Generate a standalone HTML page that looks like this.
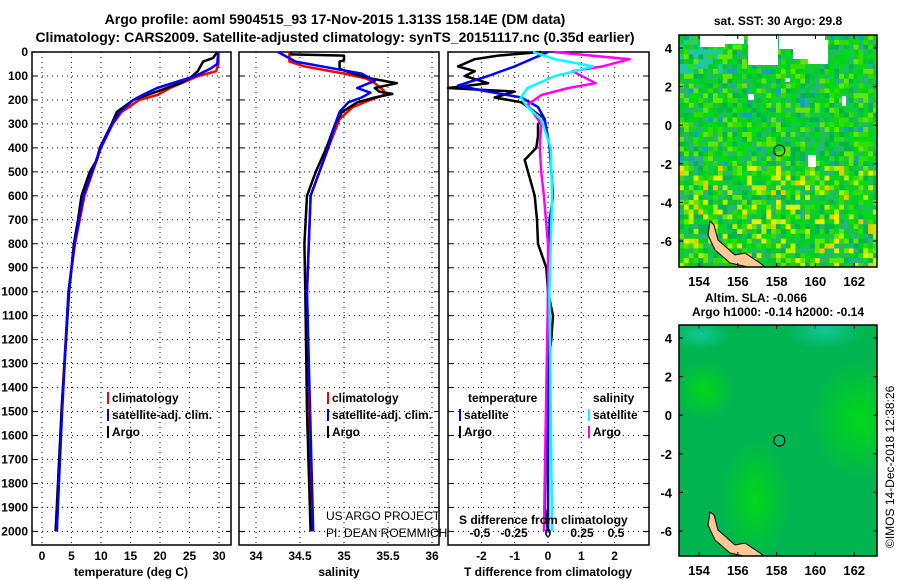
<!DOCTYPE html>
<html><head><meta charset="utf-8"><style>
html,body{margin:0;padding:0;background:#fff;}
svg{display:block;}
text{font-family:"Liberation Sans",sans-serif;font-weight:bold;fill:#000;}
</style></head><body>
<svg id="fig" width="900" height="580" viewBox="0 0 900 580" xmlns="http://www.w3.org/2000/svg">
<text x="335" y="24" font-size="14" text-anchor="middle">Argo profile: aoml 5904515_93 17-Nov-2015 1.313S 158.14E (DM data)</text>
<text x="335" y="42" font-size="14" text-anchor="middle">Climatology: CARS2009. Satellite-adjusted climatology: synTS_20151117.nc (0.35d earlier)</text>
<g id="panels"></g>
<g id="maps"></g>
</svg>
<script>
// ---- data ----
const depthTicks = [0,100,200,300,400,500,600,700,800,900,1000,1100,1200,1300,1400,1500,1600,1700,1800,1900,2000];
const tempTicks = [0,5,10,15,20,25,30];
const salTicks = [34,34.5,35,35.5,36];
const tdiffTicks = [-2,-1,0,1,2];
const sdiffTicks = [-0.5,-0.25,0,0.25,0.5];

const argoTempDepth = [0,25,40,80,110,130,160,200,250,300,400,450,500,600,700,800,1000,1500,2000];
const argoTemp      = [29.7,29,27.3,26.4,25,23.4,20,15.5,12.7,11.8,9.8,9.3,8.1,6.7,6.1,5.4,4.6,3.3,2.3];
const climTempDepth = [0,50,80,100,150,180,200,250,300,400,500,600,800,1000,1500,2000];
const climTemp      = [29.9,29.9,29.5,26.5,21.7,19.5,16.5,13.5,12,10,8.6,7.2,5.6,4.5,3.3,2.5];
const satTempDepth  = [0,50,70,100,150,180,200,250,300,400,500,600,800,1000,1500,2000];
const satTemp       = [29.9,29.7,28.5,26,19.5,17,15.5,13.2,11.9,9.9,8.5,7,5.5,4.5,3.4,2.5];

const argoSalDepth = [0,10,15,35,40,70,90,110,130,150,165,175,190,210,250,300,400,500,600,800,1000,1500,2000];
const argoSal      = [34.4,34.4,35.0,35.0,34.95,34.95,35.1,35.3,35.6,35.35,35.4,35.55,35.35,35.15,34.98,34.9,34.8,34.68,34.58,34.55,34.56,34.58,34.62];
const climSalDepth = [0,40,60,90,110,130,160,180,200,230,280,400,600,1000,2000];
const climSal      = [34.38,34.38,34.55,35.0,35.25,35.35,35.45,35.45,35.3,35.1,34.95,34.82,34.62,34.58,34.63];
const satSalDepth  = [0,40,70,90,120,150,170,190,210,250,300,400,600,1000,2000];
const satSal       = [34.25,34.45,34.9,35.2,35.35,35.15,35.3,35.2,35.05,34.95,34.9,34.82,34.62,34.58,34.65];

const argoTdDepth = [0,15,30,60,80,100,130,150,165,190,210,240,280,300,350,400,450,500,550,600,700,800,900,1000,1100,1200,1300,1500,1900,2000];
const argoTd      = [-0.2,-1.5,-2.2,-2.7,-2.2,-2.5,-1.8,-3.0,-1.0,-1.6,-0.8,-0.5,-0.1,-0.3,-0.3,-0.35,-0.7,-0.6,-0.5,-0.4,-0.33,-0.3,-0.05,0,0.15,0.1,0,-0.05,-0.1,0];
const satTdDepth  = [0,60,100,140,160,190,230,280,400,600,700,1000,2000];
const satTd       = [0,-1.0,-1.8,-2.7,-2.0,-0.8,-0.3,-0.1,0.05,0.15,0.05,0,0];
const argoSdDepth = [0,30,60,80,130,150,180,220,260,300,400,500,600,800,1000,2000];
const argoSd      = [0.04,0.6,0.4,0.18,0.35,0.15,-0.05,-0.15,-0.1,-0.05,-0.06,-0.05,-0.03,0,0,-0.03];
const satSdDepth  = [0,30,60,80,100,150,190,230,280,400,600,1000,2000];
const satSd       = [-0.11,0.05,0.33,0.2,0.05,-0.15,-0.2,-0.15,-0.05,0.02,0.03,0.01,0.03];

const latTicks = [4,2,0,-2,-4,-6];
const lonTicks = [154,156,158,160,162];
const floatLon = 158.14, floatLat = -1.313;

// ---- helpers ----
const NS = "http://www.w3.org/2000/svg";
const panels = document.getElementById('panels');
const maps = document.getElementById('maps');
function mk(tag, attrs, parent){const e=document.createElementNS(NS,tag);for(const k in attrs)e.setAttribute(k,attrs[k]);(parent||panels).appendChild(e);return e;}
const Y0=52, Y1=545;
const yD = d => 52 + d*0.2397;
const P = [
 {x0:32,x1:231,f:v=>42+(v-0)*5.9},
 {x0:239,x1:439,f:v=>256+(v-34)*88},
 {x0:448,x1:649,f:v=>548+v*33.3}
];
const sdX = v => 548 + v*136;

P.forEach((p,i)=>{
  const g=mk('g',{});
  
  
  depthTicks.forEach(d=>{
    const l=mk('line',{x1:p.x0,x2:p.x1,y1:yD(d),y2:yD(d),stroke:'#000','stroke-width':1,'stroke-dasharray':'1,4'},g);
    
    
    mk('line',{x1:p.x0,x2:p.x0+5,y1:yD(d),y2:yD(d),stroke:'#000'},g);
    mk('line',{x1:p.x1-5,x2:p.x1,y1:yD(d),y2:yD(d),stroke:'#000'},g);
  });
  const ticks = i==0?tempTicks:(i==1?salTicks:tdiffTicks);
  ticks.forEach(t=>{
    const x=p.f(t);
    const l=mk('line',{x1:x,x2:x,y1:Y0,y2:Y1,stroke:'#000','stroke-width':1,'stroke-dasharray':'1,4'},g);
    
    
    const tx=mk('text',{x:x,y:560,'font-size':12,'text-anchor':'middle'},g);
    tx.textContent=String(t);
    
    
  });
  const r=mk('rect',{x:p.x0,y:Y0,width:p.x1-p.x0,height:Y1-Y0,fill:'none',stroke:'#000','stroke-width':1.5},g);
  
  
});
depthTicks.forEach(d=>{
  const t=mk('text',{x:28,y:yD(d)+4,'font-size':12,'text-anchor':'end'});
  t.textContent=String(d);
  
  
});
sdiffTicks.forEach(v=>{
  const t=mk('text',{x:sdX(v),y:537,'font-size':12,'text-anchor':'middle'});
  t.textContent=String(v);
  
  
});

function line(depths, vals, fx, color, w, name){
  const pts=depths.map((d,i)=>fx(vals[i]).toFixed(1)+','+yD(d).toFixed(1)).join(' ');
  const e=mk('polyline',{points:pts,fill:'none',stroke:color,'stroke-width':w,'stroke-linejoin':'round'});
  
  
}
line(climTempDepth,climTemp,P[0].f,'#ff0000',2.5,'temp-climatology-line');
line(argoTempDepth,argoTemp,P[0].f,'#000',2.5,'temp-argo-line');
line(satTempDepth,satTemp,P[0].f,'#0000ff',2.5,'temp-satellite-line');
line(climSalDepth,climSal,P[1].f,'#ff0000',2.5,'sal-climatology-line');
line(argoSalDepth,argoSal,P[1].f,'#000',2.5,'sal-argo-line');
line(satSalDepth,satSal,P[1].f,'#0000ff',2.5,'sal-satellite-line');
line(argoTdDepth,argoTd,P[2].f,'#000',2.5,'tdiff-argo-line');
line(satTdDepth,satTd,P[2].f,'#0000ff',2.5,'tdiff-satellite-line');
line(argoSdDepth,argoSd,sdX,'#ff00ff',2.5,'sdiff-argo-line');
line(satSdDepth,satSd,sdX,'#00ffff',2.5,'sdiff-satellite-line');

function legend(x,y,color,label,name){
  mk('rect',{x:x,y:y-10,width:2,height:12,fill:color});
  const t=mk('text',{x:x+5,y:y,'font-size':12});
  t.textContent=label;
  
  
}
legend(107,402,'#ff0000','climatology','legend-climatology-1');
legend(107,419,'#0000ff','satellite-adj. clim.','legend-satellite-1');
legend(107,436,'#000','Argo','legend-argo-1');
legend(327,402,'#ff0000','climatology','legend-climatology-2');
legend(327,419,'#0000ff','satellite-adj. clim.','legend-satellite-2');
legend(327,436,'#000','Argo','legend-argo-2');
let t=mk('text',{x:468,y:402,'font-size':12});t.textContent='temperature';


t=mk('text',{x:593,y:402,'font-size':12});t.textContent='salinity';


legend(459,419,'#0000ff','satellite','legend-t-satellite');
legend(459,436,'#000','Argo','legend-t-argo');
legend(588,419,'#00ffff','satellite','legend-s-satellite');
legend(588,436,'#ff00ff','Argo','legend-s-argo');
t=mk('text',{x:326,y:520,'font-size':12,style:'font-weight:normal'});t.textContent='US ARGO PROJECT';


t=mk('text',{x:326,y:537,'font-size':12,style:'font-weight:normal'});t.textContent='PI: DEAN ROEMMICH';


t=mk('text',{x:459,y:524,'font-size':12});t.textContent='S difference from climatology';


[['temperature (deg C)',131,'temp-axis-title'],['salinity',339,'sal-axis-title'],['T difference from climatology',548,'tdiff-axis-title']].forEach(a=>{
  const e=mk('text',{x:a[1],y:576,'font-size':12,'text-anchor':'middle'});e.textContent=a[0];
  
  
});

// ---- maps ----
function hash(i,j,s){let h=(i*374761393+j*668265263+s*1442695041)|0;h=(h^(h>>>13))*1274126177|0;return ((h^(h>>>16))>>>0)/4294967296;}
const defs=mk('defs',{},maps);
function drawMap(top, lat4, latm6, kind){
  const L=679,R=877,T=top,B=top+(kind==0?232:231);
  const lonX=v=>699+(v-154)*19.4;
  const latY=v=>lat4+(4-v)*(latm6-lat4)/10;
  const cp=mk('clipPath',{id:'clip'+kind},defs);
  mk('rect',{x:L,y:T,width:R-L,height:B-T},cp);
  const outer=mk('g',{},maps);
  
  
  const g=mk('g',{'clip-path':'url(#clip'+kind+')'},outer);
  const cs=4.85;
  if(kind==0){
    const cols=['#00c832','#00d21e','#14c846','#00dc14','#32dc00','#00b450','#28b478','#64e600'];
    for(let i=0;i*cs<R-L;i++)for(let j=0;j*cs<B-T;j++){
      let r=hash(i,j,1);
      let c;
      const yy=j*cs/(B-T);
      if(yy>0.55 && r>0.82) c=(r>0.97?'#f0c800':(r>0.9?'#e6f000':'#b4f000'));
      else if(yy<0.15 && i<9 && r>0.5) c='#1ec8a0';
      else if(r>0.97) c='#14a0c8';
      else c=cols[Math.floor(hash(i,j,2)*8)];
      mk('rect',{x:L+i*cs,y:T+j*cs,width:cs+0.3,height:cs+0.3,fill:c},g);
    }
    [[714,36,30,8],[700,35,25,12],[748,35,30,30],[779,35,46,14],[793,35,22,24],[808,40,20,24],[785,78,5,4],[748,94,6,6],[842,96,4,10],[808,155,8,12]].forEach(w=>mk('rect',{x:w[0],y:w[1],width:w[2],height:w[3],fill:'#fff'},g));
  } else {
    mk('rect',{x:L,y:T,width:R-L,height:B-T,fill:'#00b450'},g);
    const rg=mk('radialGradient',{id:'rg1'},defs);
    mk('stop',{offset:'0','stop-color':'#00dc14','stop-opacity':0.9},rg);
    mk('stop',{offset:'1','stop-color':'#00dc14','stop-opacity':0},rg);
    const rg2=mk('radialGradient',{id:'rg2'},defs);
    mk('stop',{offset:'0','stop-color':'#14c8a0','stop-opacity':0.9},rg2);
    mk('stop',{offset:'1','stop-color':'#14c8a0','stop-opacity':0},rg2);
    mk('ellipse',{cx:860,cy:420,rx:50,ry:60,fill:'url(#rg1)'},g);
    mk('ellipse',{cx:755,cy:500,rx:35,ry:60,fill:'url(#rg1)'},g);
    mk('ellipse',{cx:705,cy:390,rx:30,ry:30,fill:'url(#rg1)'},g);
    mk('ellipse',{cx:825,cy:330,rx:40,ry:20,fill:'url(#rg2)'},g);
    mk('ellipse',{cx:700,cy:335,rx:30,ry:15,fill:'url(#rg2)'},g);
  }
  const isl=[[710,T+(kind==0?186:187)],[714,T+190],[718,T+205],[735,T+220],[745,T+218],[760,T+228],[765,T+232],[748,T+232],[730,T+228],[715,T+215],[708,T+200]];
  mk('polygon',{points:isl.map(p=>p.join(',')).join(' '),fill:'#ffc896',stroke:'#000','stroke-width':1},g);
  mk('rect',{x:L,y:T,width:R-L,height:B-T,fill:'none',stroke:'#000','stroke-width':1.5},outer);
  latTicks.forEach(v=>{
    const y=latY(v);
    mk('line',{x1:L,x2:L+4,y1:y,y2:y,stroke:'#000'},outer);
    mk('line',{x1:R-4,x2:R,y1:y,y2:y,stroke:'#000'},outer);
    const e=mk('text',{x:672,y:y+5,'font-size':13,'text-anchor':'end'},outer);e.textContent=String(v);
    
    
  });
  lonTicks.forEach(v=>{
    const x=lonX(v);
    mk('line',{x1:x,x2:x,y1:T,y2:T+4,stroke:'#000'},outer);
    mk('line',{x1:x,x2:x,y1:B-4,y2:B,stroke:'#000'},outer);
    const e=mk('text',{x:x,y:B+19,'font-size':13,'text-anchor':'middle'},outer);e.textContent=String(v);
    
    
  });
  const c=mk('circle',{cx:lonX(floatLon),cy:latY(floatLat),r:5.5,fill:kind==0?'none':'#14b464',stroke:'#000','stroke-width':1},outer);
  
  
}
drawMap(35,48,241,0);
drawMap(325,338,531,1);
[['sat. SST: 30 Argo: 29.8',778,25,'sst-map-title'],['Altim. SLA: -0.066',756,302,'sla-title'],['Argo h1000: -0.14 h2000: -0.14',778,316,'argo-height-title']].forEach(a=>{
  const e=mk('text',{x:a[1],y:a[2],'font-size':12,'text-anchor':'middle'},maps);e.textContent=a[0];
  
  
});
t=mk('text',{x:0,y:0,'font-size':12,style:'font-weight:normal',transform:'translate(894,548) rotate(-90)'},maps);
t.textContent='©IMOS 14-Dec-2018 12:38:26';


</script>
</body></html>
